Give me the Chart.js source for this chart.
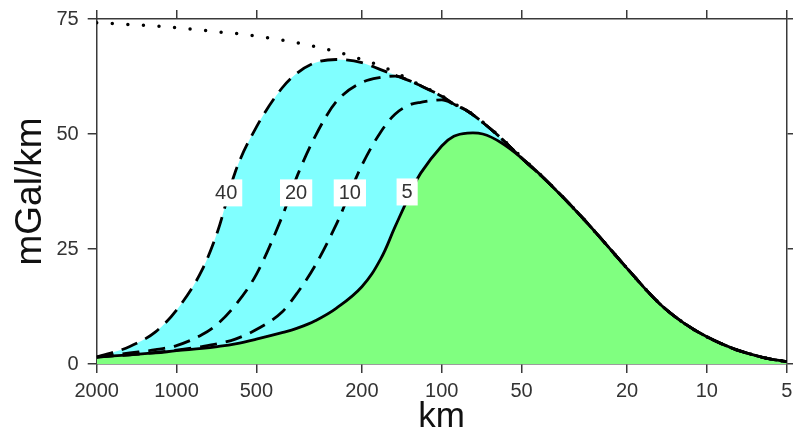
<!DOCTYPE html>
<html>
<head>
<meta charset="utf-8">
<script src="https://cdn.jsdelivr.net/npm/chart.js@4.4.0/dist/chart.umd.min.js"></script>
<style>
  html, body { margin:0; padding:0; background:#fff; }
</style>
</head>
<body>
<canvas id="c" width="793" height="441"></canvas>
<script>
// wavelength samples (km), left to right on the reversed log axis
const km = [2000,1500,1200,1000,800,700,600,500,400,350,300,250,200,170,150,130,120,100,90,80,70,60,50,40,30,25,20,15,12,10,8,7,6,5];

// thickness 5 (solid, green below)
const t5  = [1.5,2.0,2.4,2.9,3.4,3.8,4.4,5.4,6.8,7.8,9.4,12.1,16.8,22.8,29.8,37.6,41.5,47.4,49.5,50.2,50.0,48.2,44.8,39.7,32.3,27.2,20.8,13.0,8.6,5.9,3.4,2.3,1.3,0.5];
const t10 = [1.5,2.0,2.5,3.0,3.8,4.4,5.4,7.5,11.3,15.5,21.4,30.3,43.2,50.4,54.3,56.5,56.9,57.4,56.5,55.0,52.5,49.2,44.8,39.7,32.3,27.2,20.8,13.0,8.6,5.9,3.4,2.3,1.3,0.5];
const t20 = [1.5,2.4,3.1,4.0,6.4,8.7,12.8,19.5,32.0,41.0,49.5,57.0,61.2,62.3,62.6,61.4,60.5,58.2,56.5,55.0,52.5,49.2,44.8,39.7,32.3,27.2,20.8,13.0,8.6,5.9,3.4,2.3,1.3,0.5];
const t40 = [1.5,3.8,7.0,11.7,20.5,28.8,41.8,51.5,60.0,63.3,65.5,66.2,65.5,64.0,62.8,61.4,60.5,58.2,56.5,55.0,52.5,49.2,44.8,39.7,32.3,27.2,20.8,13.0,8.6,5.9,3.4,2.3,1.3,0.5];
// infinite thickness (dotted)
const tInf = [74.2,73.8,73.5,73.1,72.6,72.2,71.9,71.3,70.4,69.8,69.0,67.9,66.2,64.8,63.4,61.6,60.6,58.3,56.6,55.1,52.6,49.3,45.0,39.7,32.3,27.2,20.8,13.0,8.6,5.9,3.4,2.3,1.3,0.5];

const xTicks = [2000,1000,500,200,100,50,20,10,5];
const yTicks = [0,25,50,75];

// curve labels
const labelText = ['40','20','10','5'];
const labelKm   = [650,354,222,135];
const labelVal  = [37.2,37.2,37.2,37.4];

const AX = '#3a3a3a';
const FONT = '"Liberation Sans", Arial, sans-serif';
const pts = (arr)=> arr.map((v,i)=> ({x:km[i], y:v}));

const curveLabels = {
  id:'curveLabels',
  afterDatasetsDraw(chart){
    const {ctx, scales:{x, y}} = chart;
    ctx.save();
    ctx.font = '20px ' + FONT;
    ctx.textAlign = 'center';
    ctx.textBaseline = 'middle';
    labelText.forEach((t,i)=>{
      const px = x.getPixelForValue(labelKm[i]);
      const py = y.getPixelForValue(labelVal[i]);
      const w = ctx.measureText(t).width + 10;
      ctx.fillStyle = '#fff';
      ctx.fillRect(px - w/2, py - 13.5, w, 27);
      ctx.fillStyle = '#333';
      ctx.fillText(t, px, py + 1);
    });
    ctx.restore();
  }
};

const dashed = { borderColor:'#000', borderWidth:2.8, borderDash:[17,9], pointRadius:0, fill:false, cubicInterpolationMode:'monotone' };

const tickGrid = { drawOnChartArea:false, drawTicks:true, tickLength:9, color:AX, lineWidth:1.5 };
const axBorder = { display:true, color:AX, width:1.5 };

new Chart(document.getElementById('c').getContext('2d'), {
  type:'line',
  data:{
    datasets:[
      { label:'5', data:pts(t5), borderColor:'#000', borderWidth:2.8, pointRadius:0, fill:'origin', backgroundColor:'#80ff80', tension:0.4 },
      { label:'40', data:pts(t40), ...dashed, fill:0, backgroundColor:'#80ffff' },
      { label:'20', data:pts(t20), ...dashed },
      { label:'10', data:pts(t10), ...dashed },
      { label:'inf', data:pts(tInf), borderColor:'#000', borderWidth:3.5, borderDash:[0,15.6], borderCapStyle:'round', pointRadius:0, fill:false, cubicInterpolationMode:'monotone' }
    ]
  },
  options:{
    responsive:false, animation:false,
    layout:{ padding:0 },
    plugins:{ legend:{ display:false }, tooltip:{ enabled:false }, filler:{ drawTime:'beforeDatasetsDraw' } },
    scales:{
      x:{
        type:'logarithmic', position:'bottom', reverse:true, min:5, max:2000,
        afterBuildTicks:(s)=>{ s.ticks = xTicks.map(v=>({value:v})); },
        afterFit:(s)=>{ s.height = 77; s.paddingLeft = 0; s.paddingRight = 0; },
        ticks:{ autoSkip:false, maxRotation:0, padding:6, color:'#333', font:{ size:20, family:FONT }, callback:(v)=> String(v) },
        grid:tickGrid, border:axBorder,
        title:{ display:true, text:'km', color:'#111', font:{ size:35, family:FONT }, padding:{ top:0, bottom:3 } }
      },
      x2:{
        type:'logarithmic', axis:'x', position:'top', reverse:true, min:5, max:2000,
        afterBuildTicks:(s)=>{ s.ticks = xTicks.map(v=>({value:v})); },
        afterFit:(s)=>{ s.height = 19; s.paddingLeft = 0; s.paddingRight = 0; },
        ticks:{ display:false }, grid:tickGrid, border:axBorder
      },
      y:{
        type:'linear', position:'left', min:0, max:75,
        afterBuildTicks:(s)=>{ s.ticks = yTicks.map(v=>({value:v})); },
        afterFit:(s)=>{ s.width = 96.7; s.paddingTop = 0; s.paddingBottom = 0; },
        ticks:{ padding:9, color:'#333', font:{ size:20, family:FONT } },
        grid:tickGrid, border:axBorder,
        title:{ display:true, text:'mGal/km', color:'#111', font:{ size:37, family:FONT }, padding:{ top:9, bottom:0 } }
      },
      y2:{
        type:'linear', axis:'y', position:'right', min:0, max:75,
        afterBuildTicks:(s)=>{ s.ticks = yTicks.map(v=>({value:v})); },
        afterFit:(s)=>{ s.width = 6.3; s.paddingTop = 0; s.paddingBottom = 0; },
        ticks:{ display:false }, grid:tickGrid, border:axBorder
      }
    }
  },
  plugins:[curveLabels]
});
</script>
</body>
</html>
